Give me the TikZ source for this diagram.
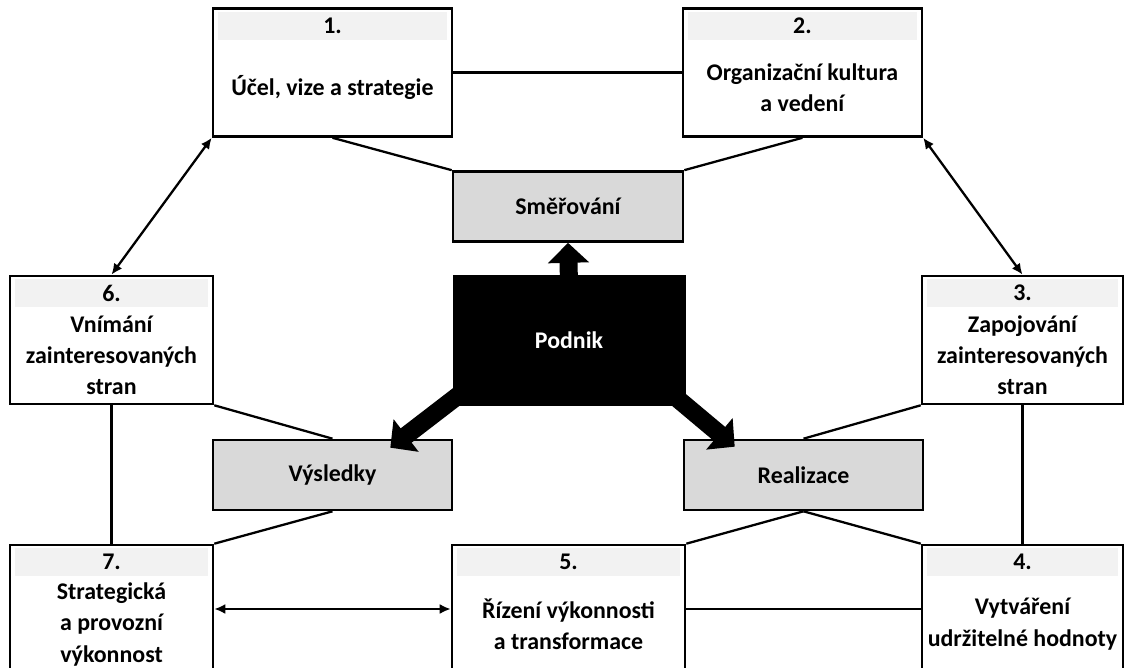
\documentclass[tikz,border=0pt]{standalone}
\usepackage{fontspec}
\setmainfont{Carlito}
\usetikzlibrary{shapes, arrows.meta, positioning}
\definecolor{bandgray}{HTML}{F2F2F2}
\definecolor{pillgray}{HTML}{D9D9D9}
\tikzstyle{every node}=[font=\bfseries\fontsize{13.6}{17.8}\selectfont]
\tikzstyle{kbox}=[draw,line width=1.5pt,fill=white,rectangle,minimum height=2.56cm,inner sep=0pt]
\tikzstyle{band}=[fill=bandgray,rectangle,minimum height=0.56cm,inner sep=0pt,anchor=north]
\tikzstyle{body}=[rectangle,align=center,minimum height=1.9cm,inner sep=0pt]
\tikzstyle{pill}=[draw,line width=1.5pt,fill=pillgray,rectangle,minimum height=1.4cm,minimum width=4.78cm]
\tikzstyle{wire}=[line width=1.3pt]
\tikzstyle{fat}=[line width=0.36cm,-{Triangle[width=0.8cm,length=0.4cm]}]

\begin{document}
\begin{tikzpicture}[x=0.02cm,y=-0.02cm,>={Latex[length=0.22cm,width=0.2cm]}]
  \useasboundingbox (0,0) rectangle (1125,668);
  % top row
  \node[kbox, minimum width=4.78cm] (ucel) at (332.5,72.5) {};
  \node[band, minimum width=4.58cm] (ucelh) at ([shift={(0,4)}]ucel.north) {1.};
  \node[body, below=0pt of ucelh] (ucelt) {Účel, vize a strategie};
  \node[kbox, minimum width=4.78cm, right of=ucel, node distance=9.4cm] (kult) {};
  \node[band, minimum width=4.58cm] (kulth) at ([shift={(0,4)}]kult.north) {2.};
  \node[body, below=0pt of kulth] (kultt) {Organizační kultura\\a vedení};
  \node[pill, minimum width=4.6cm] (smer) at (568,206.5) {Směřování};
  % middle row
  \node[kbox, minimum width=4.06cm] (vnim) at (111.5,340) {};
  \node[band, minimum width=3.86cm] (vnimh) at ([shift={(0,4)}]vnim.north) {6.};
  \node[body, below=0pt of vnimh] (vnimt) {Vnímání\\zainteresovaných\\stran};
  \node[draw, fill=black, text=white, rectangle, minimum width=4.64cm, minimum height=2.6cm] (podnik) at (569,340) {Podnik};
  \node[kbox, minimum width=4.02cm] (zapoj) at (1022.5,340) {};
  \node[band, minimum width=3.82cm] (zapojh) at ([shift={(0,4)}]zapoj.north) {3.};
  \node[body, below=0pt of zapojh] (zapojt) {Zapojování\\zainteresovaných\\stran};
  \node[pill] (vysl) at (332.5,475) {Výsledky};
  \node[pill] (real) at (803.5,475) {Realizace};
  % bottom row
  \node[kbox, minimum width=4.06cm] (vykon) at (111.5,609) {};
  \node[band, minimum width=3.86cm] (vykonh) at ([shift={(0,4)}]vykon.north) {7.};
  \node[body, below=0pt of vykonh] (vykont) {Strategická\\a provozní\\výkonnost};
  \node[kbox, minimum width=4.66cm] (rizeni) at (568.5,609) {};
  \node[band, minimum width=4.46cm] (rizenih) at ([shift={(0,4)}]rizeni.north) {5.};
  \node[body, below=0pt of rizenih] (rizenit) {Řízení výkonnosti\\a transformace};
  \node[kbox, minimum width=4.02cm] (hodn) at (1022.5,609) {};
  \node[band, minimum width=3.82cm] (hodnh) at ([shift={(0,4)}]hodn.north) {4.};
  \node[body, below=0pt of hodnh] (hodnt) {Vytváření\\udržitelné hodnoty};
  % connectors
  \draw[wire] (ucel.east) -- (kult.west);
  \draw[wire] (ucel.south) -- (smer.north west);
  \draw[wire] (kult.south) -- (smer.north east);
  \draw[wire] (vnim.south east) -- (vysl.north);
  \draw[wire] (zapoj.south west) -- (real.north);
  \draw[wire] (vnim.south) -- (vnim.south |- vykon.north);
  \draw[wire] (zapoj.south) -- (zapoj.south |- hodn.north);
  \draw[wire] (vysl.south) -- (vykon.north east);
  \draw[wire] (real.south) -- (rizeni.north east);
  \draw[wire] (real.south) -- (hodn.north west);
  \draw[wire] (rizeni.east) -- (hodn.west);
  \draw[wire, <->] (ucel.south west) -- (vnim.north);
  \draw[wire, <->] (kult.south east) -- (zapoj.north);
  \draw[wire, <->] (vykon.east) -- (rizeni.west);
  % block arrows out of Podnik
  \draw[fat] ([shift={(0,8)}]podnik.north) -- (smer.south);
  \draw[fat] ([shift={(7,-11)}]podnik.south west) -- ([shift={(-63,9)}]vysl.north east);
  \draw[fat] ([shift={(-19,-16)}]podnik.south east) -- ([shift={(52,8)}]real.north west);
\end{tikzpicture}
\end{document}
